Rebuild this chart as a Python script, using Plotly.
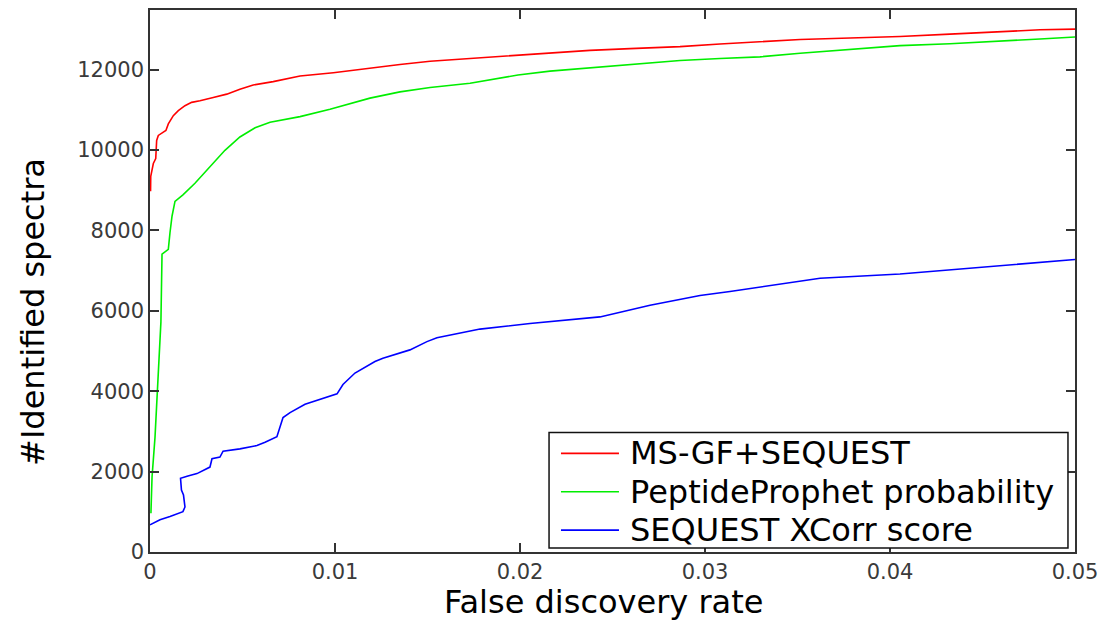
import plotly.graph_objects as go

# False discovery rate (x) and #identified spectra (y)
red_fdr = [0.00003, 0.00004, 0.00018, 0.00031, 0.00036, 0.00045, 0.00072, 0.00086, 0.00099,
           0.00126, 0.00153, 0.00189, 0.00225, 0.0027, 0.00342, 0.00415, 0.00486, 0.00558,
           0.00666, 0.00811, 0.00991, 0.01171, 0.01351, 0.01514, 0.01703, 0.01838, 0.01989,
           0.02162, 0.02378, 0.02595, 0.02865, 0.03081, 0.03297, 0.03514, 0.03784, 0.04054,
           0.04324, 0.04595, 0.04811, 0.05]
red_val = [8970, 9343, 9663, 9787, 10237, 10360, 10444, 10483, 10648,
           10853, 10976, 11099, 11183, 11222, 11306, 11387, 11510, 11616,
           11699, 11837, 11921, 12027, 12126, 12207, 12265, 12305, 12354,
           12413, 12477, 12519, 12568, 12635, 12684, 12748, 12782, 12822,
           12881, 12945, 12987, 13004]

green_fdr = [0.00005, 0.00011, 0.00027, 0.00038, 0.00049, 0.00059, 0.00065, 0.00099, 0.00108,
             0.00110, 0.00119, 0.00135, 0.00178, 0.00243, 0.00324, 0.00405, 0.00486, 0.00568,
             0.00649, 0.00811, 0.00973, 0.01189, 0.01351, 0.01514, 0.0173, 0.01892, 0.01989,
             0.02162, 0.02378, 0.02595, 0.02865, 0.03081, 0.03297, 0.03514, 0.03784, 0.04054,
             0.04324, 0.04595, 0.04811, 0.05]
green_val = [965, 1866, 2851, 3836, 4739, 5724, 7406, 7529, 7940,
             8021, 8351, 8720, 8883, 9171, 9582, 9991, 10321, 10550,
             10690, 10828, 11010, 11288, 11443, 11552, 11658, 11781, 11862,
             11960, 12044, 12125, 12224, 12273, 12315, 12404, 12495, 12593,
             12642, 12699, 12758, 12807]

blue_fdr = [0.0, 0.00054, 0.00108, 0.00178, 0.00189, 0.00181, 0.0017, 0.00165, 0.00205,
            0.00254, 0.00324, 0.00335, 0.00378, 0.00395, 0.00486, 0.00578, 0.00622, 0.00686,
            0.00719, 0.00757, 0.00838, 0.00903, 0.01011, 0.01043, 0.01108, 0.01216, 0.01259,
            0.01405, 0.01497, 0.01551, 0.01659, 0.01784, 0.02054, 0.02432, 0.02703, 0.02973,
            0.03135, 0.03405, 0.03622, 0.04054, 0.04324, 0.04595, 0.04811, 0.05]
blue_val = [677, 800, 881, 1004, 1120, 1416, 1540, 1834, 1891,
            1950, 2112, 2319, 2359, 2506, 2565, 2647, 2728, 2868,
            3343, 3467, 3673, 3772, 3934, 4166, 4451, 4739, 4821,
            5027, 5232, 5330, 5436, 5544, 5683, 5847, 6135, 6381,
            6480, 6660, 6807, 6913, 7012, 7118, 7201, 7275]

series_names = ["MS-GF+SEQUEST", "PeptideProphet probability", "SEQUEST XCorr score"]
series_colors = ["#ff0000", "#00ee00", "#0000ff"]

x_ticks = [0, 0.01, 0.02, 0.03, 0.04, 0.05]
x_tick_text = ["0", "0.01", "0.02", "0.03", "0.04", "0.05"]
y_ticks = [0, 2000, 4000, 6000, 8000, 10000, 12000]
y_tick_text = ["0", "2000", "4000", "6000", "8000", "10000", "12000"]

FONT = "DejaVu Sans"

fig = go.Figure()
for name, color, xs, ys in zip(series_names, series_colors,
                               [red_fdr, green_fdr, blue_fdr],
                               [red_val, green_val, blue_val]):
    fig.add_trace(go.Scatter(x=xs, y=ys, mode="lines", name=name, showlegend=False,
                             line=dict(color=color, width=1.6)))

axis_common = dict(showgrid=False, zeroline=False, showline=True, linecolor="#333333",
                   linewidth=1.5, mirror="ticks", ticks="inside", ticklen=9,
                   tickcolor="#333333", tickwidth=1.5,
                   tickfont=dict(family=FONT, size=21, color="#3a3a3a"))

fig.update_xaxes(range=[0, 0.05], tickvals=x_ticks, ticktext=x_tick_text, **axis_common)
fig.update_yaxes(range=[0, 13480], tickvals=y_ticks, ticktext=y_tick_text, **axis_common)

# Legend box drawn in paper coordinates (MATLAB-style legend with long line samples)
LEG_X0, LEG_X1 = 0.4314, 0.9924
LEG_Y0, LEG_Y1 = 0.0074, 0.2206
ROW_Y = [0.182, 0.1112, 0.0404]
SAMPLE_X0, SAMPLE_X1 = 0.4443, 0.5070
TEXT_X = 0.5168

shapes = [dict(type="rect", xref="paper", yref="paper", x0=LEG_X0, x1=LEG_X1,
               y0=LEG_Y0, y1=LEG_Y1, line=dict(color="#111111", width=1.5),
               fillcolor="white", layer="above")]
annotations = []
for name, color, ry in zip(series_names, series_colors, ROW_Y):
    shapes.append(dict(type="line", xref="paper", yref="paper", x0=SAMPLE_X0, x1=SAMPLE_X1,
                       y0=ry, y1=ry, line=dict(color=color, width=1.6), layer="above"))
    annotations.append(dict(text=name, xref="paper", yref="paper", x=TEXT_X, y=ry,
                            xanchor="left", yanchor="middle", showarrow=False,
                            font=dict(family=FONT, size=32, color="black")))

annotations += [
    dict(text="False discovery rate", xref="paper", yref="paper",
         x=0.49, y=0, yshift=-50, xanchor="center", yanchor="middle",
         showarrow=False, font=dict(family=FONT, size=32, color="black")),
    dict(text="#Identified spectra", xref="paper", yref="paper",
         x=0, xshift=-117, y=0.443, xanchor="center", yanchor="middle",
         textangle=-90, showarrow=False,
         font=dict(family=FONT, size=32, color="black")),
]

# the page adds an 8px body margin, so the figure is 8px smaller and margins shifted
fig.update_layout(
    width=1099, height=614,
    margin=dict(l=142, r=32, t=0, b=70),
    paper_bgcolor="white", plot_bgcolor="white",
    showlegend=False,
    shapes=shapes,
    annotations=annotations,
)

fig.write_html("out.html")
